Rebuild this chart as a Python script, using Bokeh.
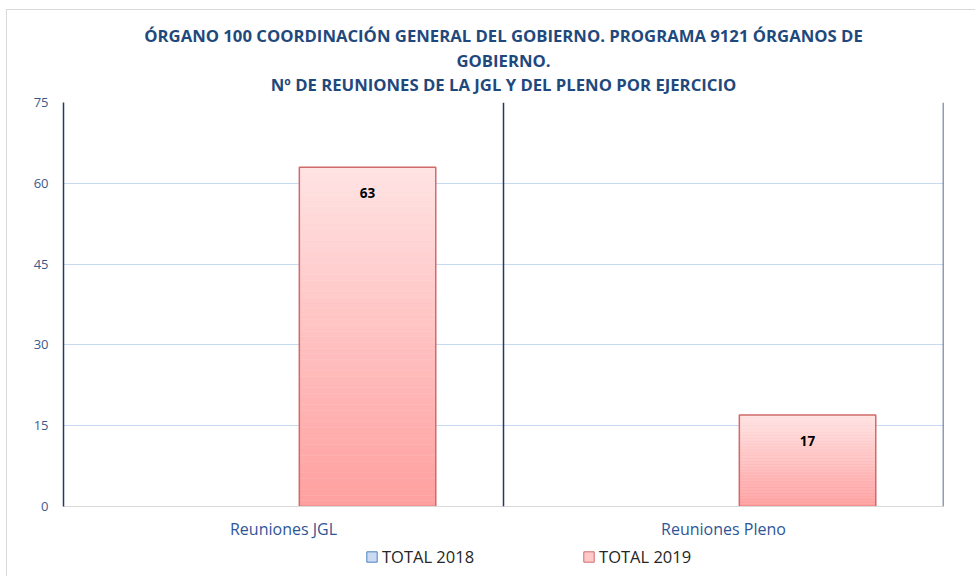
from bokeh.plotting import figure
from bokeh.layouts import column
from bokeh.models import (FactorRange, Range1d, Span, Title, Legend, LegendItem,
                          ColumnDataSource, FixedTicker)
from bokeh.transform import dodge
from bokeh.core.properties import value
from bokeh.embed import file_html
from bokeh.resources import INLINE

# ---- data ----
categories = ["Reuniones JGL", "Reuniones Pleno"]
series_names = ["TOTAL 2018", "TOTAL 2019"]
total_2018 = [0, 0]
total_2019 = [63, 17]
y_ticks = [0, 15, 30, 45, 60, 75]
title_lines = [
    "ÓRGANO 100 COORDINACIÓN GENERAL DEL GOBIERNO. PROGRAMA 9121 ÓRGANOS DE",
    "GOBIERNO.",
    "Nº DE REUNIONES DE LA JGL Y DEL PLENO POR EJERCICIO",
]

FONT = "Open Sans"
TITLE_COLOR = "#1F497D"
NAVY = "#22386A"

p = figure(x_range=FactorRange(*categories, range_padding=0),
           y_range=Range1d(0, 75),
           width=975, height=542, output_backend="svg", toolbar_location=None,
           min_border_left=63, min_border_right=32, min_border_top=102,
           min_border_bottom=36)
p.outline_line_color = None
p.background_fill_color = "white"
p.border_fill_color = None

# titles (first added sits closest to the plot)
standoffs = [13, -14, 13]
for s, line in zip(standoffs, reversed(title_lines)):
    t = Title(text=line, align="center", text_font=FONT,
              text_font_size="16.7px", text_font_style="bold",
              text_color=TITLE_COLOR, standoff=0, offset=0)
    try:
        t.standoff = s
    except Exception:
        t.standoff = max(s, 0)
    p.add_layout(t, "above")

# grid / axes
p.xgrid.grid_line_color = None
p.ygrid.grid_line_color = "#C6D9F1"
p.ygrid.ticker = FixedTicker(ticks=y_ticks)

p.yaxis.ticker = FixedTicker(ticks=y_ticks)
p.yaxis.axis_line_color = NAVY
p.yaxis.axis_line_width = 1.5
p.yaxis.major_tick_line_color = None
p.yaxis.minor_tick_line_color = None
p.yaxis.major_tick_out = 0
p.yaxis.major_label_standoff = 15
p.yaxis.major_label_text_font = FONT
p.yaxis.major_label_text_font_size = "13px"
p.yaxis.major_label_text_color = "#3B5A8C"

p.xaxis.axis_line_color = "#D9D9D9"
p.xaxis.major_tick_line_color = None
p.xaxis.minor_tick_line_color = None
p.xaxis.major_tick_out = 0
p.xaxis.major_label_standoff = 11
p.xaxis.major_label_text_font = FONT
p.xaxis.major_label_text_font_size = "16px"
p.xaxis.major_label_text_color = "#2F5597"

# category separators
for loc in [1, 2]:
    p.add_layout(Span(location=loc, dimension="height", line_color=NAVY,
                      line_width=1.5))

# ---- bars with vertical gradient ----
BAR_W = 0.31
OFFSETS = [-0.191, 0.191]
GRADS = [("#A9C4EB", "#E4EDF9"), ("#FF9F9F", "#FFE3E3")]
BORDERS = ["#4F81BD", "#D06B6B"]
N = 60


def hex2rgb(h):
    h = h.lstrip("#")
    return tuple(int(h[i:i + 2], 16) for i in (0, 2, 4))


def mix(c0, c1, t):
    a, b = hex2rgb(c0), hex2rgb(c1)
    return "#%02x%02x%02x" % tuple(round(a[i] + (b[i] - a[i]) * t) for i in range(3))


for vals, off, (c_bot, c_top), border in zip([total_2018, total_2019], OFFSETS, GRADS, BORDERS):
    xs, bots, tops, cols = [], [], [], []
    for cat, v in zip(categories, vals):
        if v <= 0:
            continue
        for k in range(N):
            xs.append(cat)
            bots.append(v * k / N)
            tops.append(v * (k + 1) / N)
            cols.append(mix(c_bot, c_top, (k + 0.5) / N))
    src = ColumnDataSource(dict(x=xs, bottom=bots, top=tops, color=cols))
    p.vbar(x=dodge("x", off, range=p.x_range), bottom="bottom", top="top",
           width=BAR_W, fill_color="color", line_color="color", line_width=0.5,
           source=src)
    cats = [c for c, v in zip(categories, vals) if v > 0]
    vv = [v for v in vals if v > 0]
    osrc = ColumnDataSource(dict(x=cats, top=vv, label=[str(v) for v in vv]))
    p.vbar(x=dodge("x", off, range=p.x_range), top="top", bottom=0,
           width=BAR_W, fill_color=None, line_color=border, line_width=1.5,
           source=osrc)
    p.text(x=dodge("x", off, range=p.x_range), y="top", text="label",
           text_align="center", text_baseline="middle", y_offset=26,
           text_font=value(FONT), text_font_size="13.5px",
           text_font_style="bold", text_color="black", source=osrc)

# ---- legend strip below the chart ----
lp = figure(width=975, height=34, output_backend="svg", toolbar_location=None,
            x_range=Range1d(0, 1), y_range=Range1d(1, 2),
            x_axis_location=None, y_axis_location=None,
            min_border_left=0, min_border_right=0, min_border_top=0,
            min_border_bottom=0)
lp.outline_line_color = None
lp.border_fill_color = None
lp.background_fill_color = None
lp.xgrid.grid_line_color = None
lp.ygrid.grid_line_color = None

# swatch-only renderers (drawn outside the visible range)
r18 = lp.vbar(x=[0.5], top=[0], bottom=[0], width=0.3, fill_color="#C9DAF2",
              line_color="#4F81BD", line_width=1)
r19 = lp.vbar(x=[0.5], top=[0], bottom=[0], width=0.3, fill_color="#FFC9C9",
              line_color="#D06B6B", line_width=1)
legend = Legend(items=[LegendItem(label=series_names[0], renderers=[r18]),
                       LegendItem(label=series_names[1], renderers=[r19])],
                orientation="horizontal", location=(302, 8),
                glyph_width=13, glyph_height=13, label_standoff=4, spacing=108,
                padding=0, margin=0, border_line_color=None,
                background_fill_alpha=0, label_text_font=FONT,
                label_text_font_size="16.5px", label_text_color="#262626",
                label_height=20)
lp.add_layout(legend, "center")

chart_border = ("linear-gradient(#D9D9D9,#D9D9D9) 6px 9px / 1px 100% no-repeat, "
                "linear-gradient(#D9D9D9,#D9D9D9) 6px 9px / 100% 1px no-repeat, white")
layout = column(p, lp, spacing=0, styles={"background": chart_border})
open("out.html", "w").write(file_html(layout, INLINE))
